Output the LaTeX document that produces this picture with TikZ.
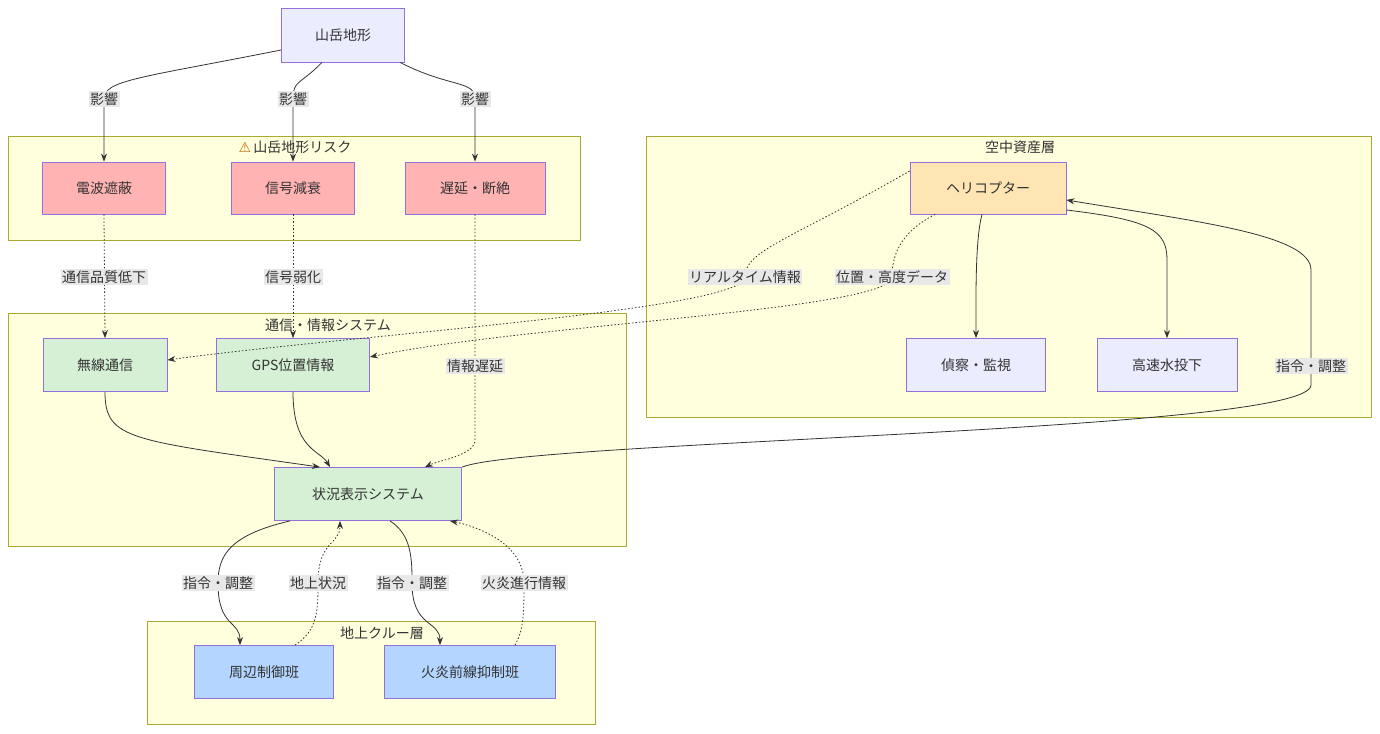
\documentclass[tikz,border=0pt]{standalone}
\usepackage{fontspec}
\setmainfont{Noto Sans CJK JP}
\newfontfamily\dejavu{DejaVu Sans}
\usetikzlibrary{arrows.meta}
\definecolor{nbord}{HTML}{9370DB}
\definecolor{cfill}{HTML}{FFFFDE}
\definecolor{cbord}{HTML}{AAAA33}
\definecolor{lbg}{HTML}{E8E8E8}
\definecolor{ln}{HTML}{333333}
\tikzset{
 x=1pt,y=-1pt,
 every node/.style={font=\fontsize{14}{16}\selectfont, text=ln},
 box/.style={draw=nbord, line width=0.8pt, minimum height=53pt, inner sep=0pt},
 purple/.style={box, fill={rgb,255:red,236;green,236;blue,255}},
 red/.style={box, fill={rgb,255:red,255;green,179;blue,179}},
 green/.style={box, fill={rgb,255:red,213;green,240;blue,213}},
 orange/.style={box, fill={rgb,255:red,255;green,229;blue,180}},
 blue/.style={box, fill={rgb,255:red,179;green,213;blue,255}},
 clus/.style={draw=cbord, fill=cfill, line width=0.8pt},
 ctitle/.style={font=\fontsize{14}{16}\selectfont},
 lab/.style={fill=lbg, inner sep=1.5pt},
 e/.style={draw=ln, line width=0.8pt, -{Stealth[length=8pt,width=6pt]}},
 d/.style={e, dash pattern=on 1.5pt off 2pt},
}
\begin{document}
\begin{tikzpicture}
\useasboundingbox (0,0) rectangle (1380,733);
\fill[white] (0,0) rectangle (1380,733);
% clusters
\draw[clus] (8,136) rectangle (580,240);
\draw[clus] (8,313) rectangle (626,546);
\draw[clus] (646,136) rectangle (1371,417);
\draw[clus] (147,621) rectangle (595,724);
\node[ctitle] (t1) at (295,147) {{\dejavu\color{orange!80!black}⚠}\,山岳地形リスク};
\node[ctitle] (t2) at (328,325) {通信・情報システム};
\node[ctitle] (t3) at (1020,147) {空中資産層};
\node[ctitle] (t4) at (382,633) {地上クルー層};
% nodes
\node[purple, minimum width=123pt, minimum height=54pt] (m) at (343,35) {山岳地形};
\node[red, minimum width=123pt, minimum height=52pt] (r1) at (104,188) {電波遮蔽};
\node[red, minimum width=123pt, minimum height=52pt] (r2) at (293,188) {信号減衰};
\node[red, minimum width=140pt, minimum height=52pt] (r3) at (475,188) {遅延・断絶};
\node[green, minimum width=124pt] (g1) at (105,365) {無線通信};
\node[green, minimum width=153pt] (g2) at (293,365) {GPS位置情報};
\node[green, minimum width=187pt] (s) at (368,494) {状況表示システム};
\node[orange, minimum width=156pt, minimum height=52pt] (h) at (988,188) {ヘリコプター};
\node[purple, minimum width=139pt] (a1) at (976,365) {偵察・監視};
\node[purple, minimum width=140pt] (a2) at (1167,365) {高速水投下};
\node[blue, minimum width=139pt] (b1) at (264,672) {周辺制御班};
\node[blue, minimum width=171pt] (b2) at (470,672) {火炎前線抑制班};
% label anchor coordinates
\coordinate (l1) at (104,99);
\coordinate (l2) at (293,99);
\coordinate (l3) at (475,99);
\coordinate (l4) at (475,366);
\coordinate (l5) at (745,277);
\coordinate (l6) at (892,277);
\coordinate (l7) at (1311,366);
\coordinate (l8) at (218,583);
\coordinate (l9) at (318,583);
\coordinate (l10) at (412,583);
\coordinate (l11) at (524,583);
% edges
\draw[e] (m.west|-0,50) .. controls (140,78) and (104,80) .. (l1) -- (r1.north);
\draw[e] ([xshift=-21pt]m.south) .. controls (300,85) and (293,80) .. (l2) -- (r2.north);
\draw[e] ([xshift=57pt]m.south) .. controls (450,88) and (475,80) .. (l3) -- (r3.north);
\draw[d] (r1.south) -- (g1.north);
\draw[d] (r2.south) -- (g2.north);
\draw[d] (r3.south) -- (l4) -- (475,440) .. controls (475,455) and (440,460) .. ([xshift=57pt]s.north);
\draw[d] ([yshift=17pt]h.west) .. controls (790,240) and (745,250) .. (l5) .. controls (745,310) and (350,335) .. ([yshift=5pt]g1.east);
\draw[d] ([xshift=-53pt]h.south) .. controls (905,230) and (892,250) .. (l6) .. controls (892,310) and (520,325) .. ([yshift=8pt]g2.east);
\draw[e] ([xshift=-6pt]h.south) .. controls (975,240) and (976,300) .. (a1.north);
\draw[e] ([yshift=-22pt]h.east) .. controls (1150,220) and (1167,230) .. (1167,260) -- (a2.north);
\draw[e] ([xshift=94pt]s.north) .. controls (530,440) and (1311,432) .. (1311,385) -- (l7) -- (1311,270) .. controls (1311,235) and (1200,222) .. ([yshift=-12pt]h.east);
\draw[e] (g1.south) .. controls (105,440) and (130,440) .. ([xshift=-48pt]s.north);
\draw[e] (g2.south) .. controls (293,450) and (320,450) .. ([xshift=-38pt]s.north);
\draw[e] ([xshift=-78pt]s.south) .. controls (230,535) and (218,555) .. (l8) .. controls (218,628) and (240,620) .. ([xshift=-24pt]b1.north);
\draw[d] ([xshift=31pt]b1.north) .. controls (318,630) and (318,610) .. (l9) .. controls (318,540) and (340,545) .. ([xshift=-28pt]s.south);
\draw[e] ([xshift=22pt]s.south) .. controls (412,535) and (412,560) .. (l10) .. controls (412,628) and (440,620) .. ([xshift=-30pt]b2.north);
\draw[d] ([xshift=45pt]b2.north) .. controls (524,630) and (524,610) .. (l11) .. controls (524,540) and (470,525) .. ([xshift=82pt]s.south);
% labels
\node[lab] at (l1) {影響};
\node[lab] at (l2) {影響};
\node[lab] at (l3) {影響};
\node[lab] at (104,277) {通信品質低下};
\node[lab] at (293,277) {信号弱化};
\node[lab] at (l4) {情報遅延};
\node[lab] at (l5) {リアルタイム情報};
\node[lab] at (l6) {位置・高度データ};
\node[lab] at (l7) {指令・調整};
\node[lab] at (l8) {指令・調整};
\node[lab] at (l9) {地上状況};
\node[lab] at (l10) {指令・調整};
\node[lab] at (l11) {火炎進行情報};
\end{tikzpicture}
\end{document}
